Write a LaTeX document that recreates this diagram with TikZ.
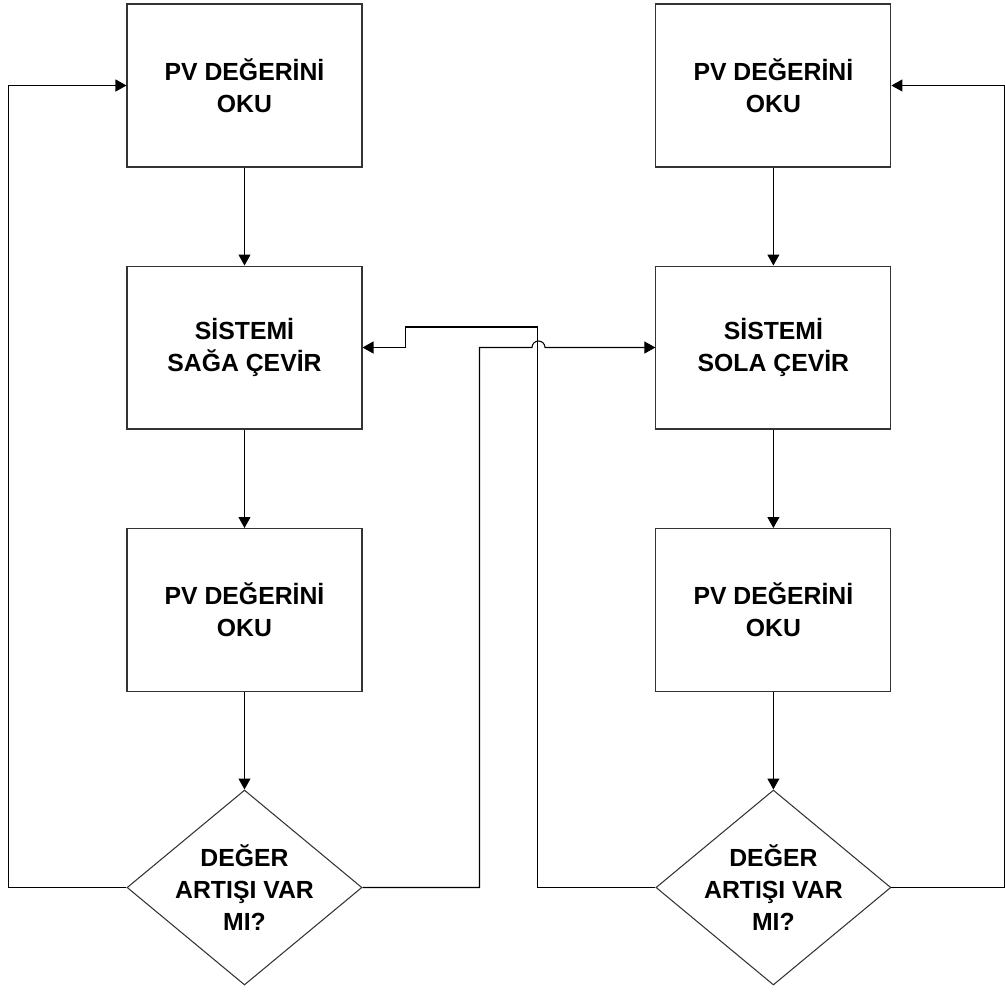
\documentclass[tikz,border=0pt]{standalone}
\usepackage{fontspec}
\setmainfont{Liberation Sans}
\usetikzlibrary{shapes.geometric,arrows.meta}

\begin{document}
\begin{tikzpicture}[x=0.02cm,y=-0.02cm,
    box/.style={draw=black!80,line width=0.6pt,minimum width=4.7cm,minimum height=3.26cm,
      align=center,font=\fontsize{14.1}{18.3}\selectfont\bfseries},
    decision/.style={draw=black!80,line width=0.6pt,diamond,aspect=1.2,inner sep=-0.2cm,
      minimum width=4.7cm,minimum height=3.9cm,align=center,font=\fontsize{14.1}{18.3}\selectfont\bfseries},
    arr/.style={line width=0.6pt,-{Triangle[length=0.22cm,width=0.24cm]}},
    link/.style={line width=0.6pt}]
    \useasboundingbox (0,0) rectangle (1005,992);

    % Left column
    \begin{scope}[xshift=0cm]
      \node[box] (b1L) at (244.5,85.5) {PV DEĞERİNİ\\OKU};
      \node[box] (b2L) at (244.5,347.5) {SİSTEMİ\\SAĞA ÇEVİR};
      \node[box] (b3L) at (244.5,610) {PV DEĞERİNİ\\OKU};
      \node[decision] (dL) at (244.5,887.5) {DEĞER\\ARTIŞI VAR\\MI?};
    \end{scope}

    % Right column
    \begin{scope}[xshift=10.58cm]
      \node[box] (b1R) at (244.5,85.5) {PV DEĞERİNİ\\OKU};
      \node[box] (b2R) at (244.5,347.5) {SİSTEMİ\\SOLA ÇEVİR};
      \node[box] (b3R) at (244.5,610) {PV DEĞERİNİ\\OKU};
      \node[decision] (dR) at (244.5,887.5) {DEĞER\\ARTIŞI VAR\\MI?};
    \end{scope}

    % Straight steps
    \draw[arr] (b1L) -- (b2L);
    \draw[arr] (b2L) -- (b3L);
    \draw[arr] (b3L) -- (dL);
    \draw[arr] (b1R) -- (b2R);
    \draw[arr] (b2R) -- (b3R);
    \draw[arr] (b3R) -- (dR);

    % Loops back to the top
    \draw[arr] (dL.west) -- ++(-118,0) |- (b1L.west);
    \draw[arr] (dR.east) -- ++(113,0) |- (b1R.east);

    % Cross-over links
    \draw[arr] (dL.east) -- ++(117,0) -- ++(0,-540) -- ++(52.5,0)
      arc[start angle=180,end angle=0,radius=0.13cm] -- (b2R.west);
    \draw[arr] (dR.west) -- ++(-118,0) -- ++(0,-560.5) -- ++(-132,0) |- (b2L.east);
  \end{tikzpicture}
\end{document}
